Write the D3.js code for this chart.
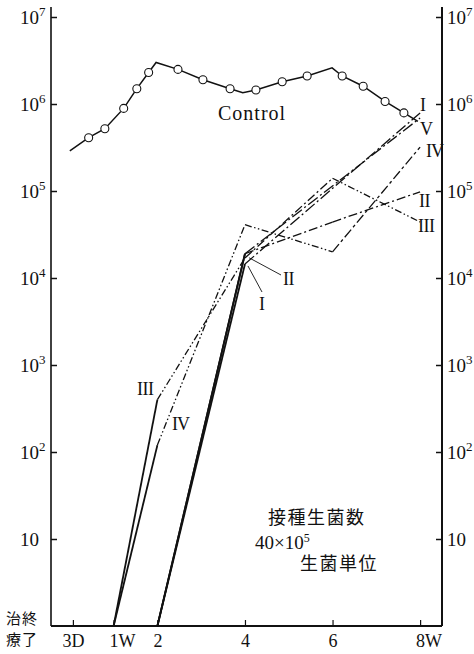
<!DOCTYPE html>
<html>
<head>
<meta charset="utf-8">
<script src="https://cdnjs.cloudflare.com/ajax/libs/d3/7.8.5/d3.min.js"></script>
<style>
  body { margin: 0; background: #fff; }
  svg { display: block; }
  .serif { font-family: "Liberation Serif", "DejaVu Serif", serif; fill: #111; }
  .cjk { font-family: "Noto Sans CJK JP", sans-serif; fill: #111; }
</style>
</head>
<body>
<div id="chart"></div>
<script>
// ---- data (weeks after end of treatment, viable count) ----
var controlWeeks  = [0, 0.43, 0.8, 1.23, 1.53, 1.8, 1.97, 2.47, 3.04, 3.66, 3.95, 4.25, 4.85, 5.42, 5.99, 6.22, 6.7, 7.2, 7.63, 7.95];
var controlCounts = [2.9e5, 4.1e5, 5.2e5, 8.9e5, 1.5e6, 2.3e6, 3.0e6, 2.5e6, 1.9e6, 1.5e6, 1.35e6, 1.45e6, 1.8e6, 2.1e6, 2.6e6, 2.1e6, 1.6e6, 1.07e6, 7.9e5, 6.3e5];
var controlMarked = [false, true, true, true, true, true, false, true, true, true, false, true, true, true, false, true, true, true, true, false];

var weeksI   = [2, 4, 8],          countsI   = [1, 1.45e4, 7.9e5];
var weeksII  = [2, 4, 6, 8],       countsII  = [1, 1.9e4, 4.4e4, 9.8e4];
var weeksIII = [1, 2, 4, 6, 8],    countsIII = [1, 400, 1.7e4, 1.4e5, 4.4e4];
var weeksIV  = [1, 2, 4, 6, 8],    countsIV  = [1, 120, 4.1e4, 2.0e4, 3.2e5];
var weeksV   = [2, 4, 8],          countsV   = [1, 1.9e4, 6.9e5];

var xTickValues = [0.07, 1, 2, 4, 6, 8];
var xTickLabels = ["3D", "1W", "2", "4", "6", "8W"];
var yTickValues = [10, 1e2, 1e3, 1e4, 1e5, 1e6, 1e7];

// ---- line styles per segment ----
var SOLID = null,
    DASHDOT = "9,3,2,3",
    LONGDASHDOT = "12,3,2,3",
    DASHDOT2 = "7,2.5,1.5,2.5,1.5,2.5";

var series = [
  { name: "I",   weeks: weeksI,   counts: countsI,   dash: [SOLID, LONGDASHDOT] },
  { name: "II",  weeks: weeksII,  counts: countsII,  dash: [SOLID, DASHDOT, DASHDOT] },
  { name: "III", weeks: weeksIII, counts: countsIII, dash: [SOLID, DASHDOT2, DASHDOT, DASHDOT2] },
  { name: "IV",  weeks: weeksIV,  counts: countsIV,  dash: [SOLID, DASHDOT2, DASHDOT2, "10,3,3,3"] },
  { name: "V",   weeks: weeksV,   counts: countsV,   dash: [SOLID, LONGDASHDOT] }
];

var W = 474, H = 654;
var svg = d3.select("#chart").append("svg").attr("width", W).attr("height", H);

var x = d3.scaleLinear().domain([-0.43, 8.5]).range([51, 442]);
var y = d3.scaleLog().domain([1, 1e7]).range([626, 17]);
var yTop = y(1.3e7);

function supLabel(sel, d) {
  var e = Math.round(Math.log10(d));
  sel.text(null);
  if (e === 1) { sel.text("10"); return; }
  sel.append("tspan").text("10");
  sel.append("tspan").attr("dy", -8).attr("font-size", 13).text(e);
}

// ---- axes ----
var gl = svg.append("g").attr("transform", "translate(" + x.range()[0] + ",0)")
  .call(d3.axisLeft(y).tickValues(yTickValues).tickSizeInner(-6).tickSizeOuter(0).tickPadding(3));
gl.select(".domain").remove();
gl.selectAll(".tick line").attr("stroke", "#111").attr("stroke-width", 1.5);
gl.selectAll(".tick text").attr("class", "serif").attr("font-size", 19)
  .attr("text-anchor", "start").attr("x", -31)
  .each(function (d) { supLabel(d3.select(this), d); });

var gr = svg.append("g").attr("transform", "translate(" + x.range()[1] + ",0)")
  .call(d3.axisRight(y).tickValues(yTickValues).tickSizeInner(-6).tickSizeOuter(0).tickPadding(5));
gr.select(".domain").remove();
gr.selectAll(".tick line").attr("stroke", "#111").attr("stroke-width", 1.5);
gr.selectAll(".tick text").attr("class", "serif").attr("font-size", 19)
  .each(function (d) { supLabel(d3.select(this), d); });

var gb = svg.append("g").attr("transform", "translate(0," + y(1) + ")")
  .call(d3.axisBottom(x).tickValues(xTickValues).tickSizeInner(-6).tickSizeOuter(0).tickPadding(8)
    .tickFormat(function (d, i) { return xTickLabels[i]; }));
gb.select(".domain").remove();
gb.selectAll(".tick line").attr("stroke", "#111").attr("stroke-width", 1.2);
gb.selectAll(".tick text").attr("class", "serif").attr("font-size", 18)
  .each(function (d, i) {
    if (/W$/.test(xTickLabels[i])) d3.select(this).attr("text-anchor", "start").attr("dx", -4.5);
  });

// frame lines
svg.append("line").attr("x1", x.range()[0]).attr("x2", x.range()[0]).attr("y1", yTop).attr("y2", y(1))
  .attr("stroke", "#111").attr("stroke-width", 1.6);
svg.append("line").attr("x1", x.range()[1]).attr("x2", x.range()[1]).attr("y1", yTop).attr("y2", y(1))
  .attr("stroke", "#111").attr("stroke-width", 2);
svg.append("line").attr("x1", x.range()[0]).attr("x2", x.range()[1]).attr("y1", y(1)).attr("y2", y(1))
  .attr("stroke", "#111").attr("stroke-width", 1.8);

// ---- treatment groups ----
var line = d3.line().x(function (d) { return x(d[0]); }).y(function (d) { return y(d[1]); });
series.forEach(function (s) {
  for (var i = 0; i < s.weeks.length - 1; i++) {
    var seg = [[s.weeks[i], s.counts[i]], [s.weeks[i + 1], s.counts[i + 1]]];
    svg.append("path").attr("d", line(seg))
      .attr("fill", "none").attr("stroke", "#111")
      .attr("stroke-width", i === 0 ? 1.8 : 1.3)
      .attr("stroke-dasharray", s.dash[i]);
  }
});

// ---- control ----
var ctrl = controlWeeks.map(function (w, i) { return [w, controlCounts[i]]; });
svg.append("path").attr("d", line(ctrl)).attr("fill", "none")
  .attr("stroke", "#111").attr("stroke-width", 1.5);
svg.selectAll("circle.ctrl").data(ctrl.filter(function (d, i) { return controlMarked[i]; }))
  .enter().append("circle").attr("class", "ctrl")
  .attr("cx", function (d) { return x(d[0]); })
  .attr("cy", function (d) { return y(d[1]); })
  .attr("r", 4).attr("fill", "#fff").attr("stroke", "#111").attr("stroke-width", 1.1);

svg.append("text").attr("class", "serif").attr("x", 218).attr("y", 120)
  .attr("font-size", 20).attr("letter-spacing", 1).text("Control");

// ---- group labels ----
var labels = [
  ["I", 420, 111], ["V", 420, 135], ["IV", 426, 157], ["II", 419, 207], ["III", 418, 232],
  ["III", 137, 395], ["IV", 172, 430], ["I", 259, 310], ["II", 283, 285]
];
labels.forEach(function (l) {
  svg.append("text").attr("class", "serif").attr("x", l[1]).attr("y", l[2])
    .attr("font-size", 18).attr("letter-spacing", l[0] === "IV" ? -1 : -0.5).text(l[0]);
});
// leaders for the labels at 4 weeks
svg.append("line").attr("x1", 262).attr("y1", 292).attr("x2", x(4) + 3).attr("y2", y(countsI[1]) + 2)
  .attr("stroke", "#111").attr("stroke-width", 0.9);
svg.append("line").attr("x1", 281).attr("y1", 275).attr("x2", x(4) + 4).attr("y2", y(countsII[1]) + 4)
  .attr("stroke", "#111").attr("stroke-width", 0.9);

// ---- annotations ----
svg.append("text").attr("class", "cjk").attr("x", 268).attr("y", 524)
  .attr("font-size", 18).attr("letter-spacing", 1.5).text("接種生菌数");
var t = svg.append("text").attr("class", "serif").attr("x", 255).attr("y", 549).attr("font-size", 19);
t.append("tspan").text("40×10");
t.append("tspan").attr("dy", -7).attr("font-size", 12).text("5");
svg.append("text").attr("class", "cjk").attr("x", 300).attr("y", 570)
  .attr("font-size", 18).attr("letter-spacing", 1.5).text("生菌単位");

svg.append("text").attr("class", "cjk").attr("x", 6).attr("y", 624)
  .attr("font-size", 15).attr("letter-spacing", 1).text("治終");
svg.append("text").attr("class", "cjk").attr("x", 6).attr("y", 645)
  .attr("font-size", 15).attr("letter-spacing", 1).text("療了");
</script>
</body>
</html>
